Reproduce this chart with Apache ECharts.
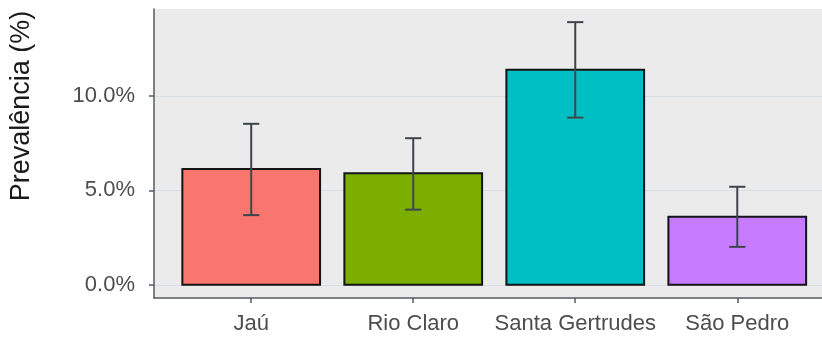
<!DOCTYPE html>
<html>
<head>
<meta charset="utf-8">
<script src="https://cdn.jsdelivr.net/npm/echarts@6/dist/echarts.min.js"></script>
<style>
  html, body { margin: 0; padding: 0; background: #ffffff; }
  #chart { width: 822px; height: 338px; }
</style>
</head>
<body>
<div id="chart"></div>
<script>
// Prevalence by municipality, with confidence intervals (%)
const categories = ['Jaú', 'Rio Claro', 'Santa Gertrudes', 'São Pedro'];
const prevalence = [6.13, 5.91, 11.38, 3.60];
const lowerCI = [3.69, 3.98, 8.85, 2.01];
const upperCI = [8.52, 7.76, 13.90, 5.19];
const barColors = ['#F8766D', '#7CAE00', '#00BFC4', '#C77CFF'];
const yTicks = [0, 5, 10];

// ggplot-style 5% padding around the data range
const topValue = Math.max(...upperCI);
const pad = 0.05 * topValue;
const yMin = -pad;
const yMax = topValue + pad;

// discrete x positions; the panel runs past the right edge of the canvas
const positions = categories.map((_, i) => i + 1);
const xMin = 0.4;
const xVisibleMax = 4.523;
const rows = categories.map((c, i) => [positions[i], prevalence[i], lowerCI[i], upperCI[i], i]);

const axisColor = '#555b63';
const tickTextColor = '#4d4d4d';
const fontFamily = '"Liberation Sans", Arial, Helvetica, sans-serif';

const chart = echarts.init(document.getElementById('chart'), null, { renderer: 'canvas' });

chart.setOption({
  backgroundColor: '#ffffff',
  animation: false,
  grid: {
    left: 154,
    right: 0,
    top: 9,
    height: 289,
    outerBoundsMode: 'none',
    show: true,
    backgroundColor: '#EBEBEB',
    borderWidth: 0
  },
  xAxis: {
    type: 'value',
    min: xMin,
    max: xVisibleMax,
    splitLine: { show: false },
    axisLine: { show: true, onZero: false, lineStyle: { color: axisColor, width: 1.5 } },
    axisTick: {
      show: true,
      length: 5,
      customValues: positions,
      lineStyle: { color: axisColor, width: 1.5 }
    },
    axisLabel: {
      customValues: positions,
      margin: 15,
      color: tickTextColor,
      fontSize: 22,
      fontFamily: fontFamily,
      formatter: v => categories[Math.round(v) - 1] || ''
    }
  },
  yAxis: {
    type: 'value',
    min: yMin,
    max: yMax,
    axisLine: { show: true, onZero: false, lineStyle: { color: axisColor, width: 1.5 } },
    axisTick: {
      show: true,
      length: 5,
      customValues: yTicks,
      lineStyle: { color: axisColor, width: 1.5 }
    },
    splitLine: { show: true, lineStyle: { color: '#d9dfe6', width: 1.2 } },
    axisLabel: {
      customValues: yTicks,
      margin: 19,
      color: tickTextColor,
      fontSize: 22,
      fontFamily: fontFamily,
      formatter: v => v.toFixed(1) + '%'
    }
  },
  graphic: [{
    type: 'text',
    x: 22,
    y: 106,
    rotation: Math.PI / 2,
    style: {
      text: 'Prevalência (%)',
      fill: '#1a1a1a',
      font: '27px ' + fontFamily,
      textAlign: 'center',
      textVerticalAlign: 'middle'
    }
  }],
  series: [{
    type: 'custom',
    data: rows,
    clip: false,
    renderItem: function (params, api) {
      const x = api.value(0);
      const v = api.value(1);
      const lo = api.value(2);
      const hi = api.value(3);
      const idx = api.value(4);
      const halfBar = 0.425;
      const halfCap = 0.05;
      const p1 = api.coord([x - halfBar, v]);
      const p2 = api.coord([x + halfBar, 0]);
      const top = api.coord([x, hi]);
      const bot = api.coord([x, lo]);
      const capL = api.coord([x - halfCap, hi]);
      const capR = api.coord([x + halfCap, hi]);
      const capL2 = api.coord([x - halfCap, lo]);
      const capR2 = api.coord([x + halfCap, lo]);
      const errStyle = { stroke: '#3f454c', lineWidth: 2 };
      return {
        type: 'group',
        children: [
          {
            type: 'rect',
            shape: { x: p1[0], y: p1[1], width: p2[0] - p1[0], height: p2[1] - p1[1] },
            style: { fill: barColors[idx], stroke: '#141414', lineWidth: 2 }
          },
          { type: 'line', shape: { x1: top[0], y1: top[1], x2: bot[0], y2: bot[1] }, style: errStyle },
          { type: 'line', shape: { x1: capL[0], y1: capL[1], x2: capR[0], y2: capR[1] }, style: errStyle },
          { type: 'line', shape: { x1: capL2[0], y1: capL2[1], x2: capR2[0], y2: capR2[1] }, style: errStyle }
        ]
      };
    }
  }]
});
</script>
</body>
</html>
